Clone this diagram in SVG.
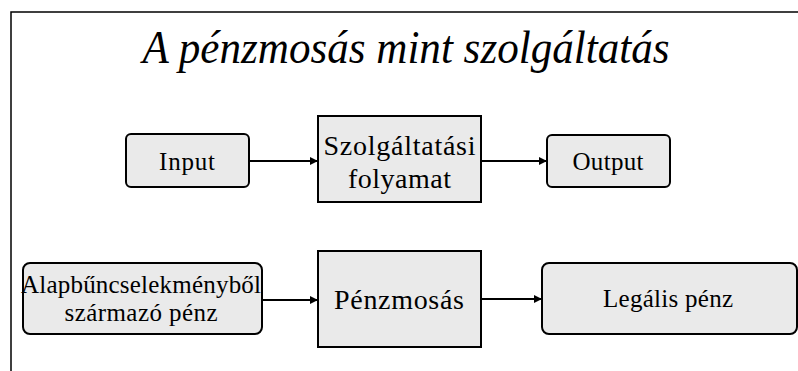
<svg xmlns="http://www.w3.org/2000/svg" width="798" height="371" viewBox="0 0 798 371">
<style>
.box{fill:#eaeaea;stroke:#000;stroke-width:2}
.t{fill:#000;text-anchor:middle}
.c{stroke:#000;stroke-width:2;fill:none;marker-end:url(#ah)}
</style>
<defs>
<marker id="ah" viewBox="0 0 10 10" refX="10" refY="5" markerWidth="8" markerHeight="8" markerUnits="userSpaceOnUse" orient="auto">
<path d="M0,0 L10,5 L0,10 z" fill="#000"/>
</marker>
</defs>
<rect width="798" height="371" fill="#fff"/>
<path d="M11,371 V12 H798" fill="none" stroke="#000" stroke-width="1.5"/>
<g font-family="'Liberation Serif', 'Times New Roman', serif">
<text class="t" x="406" y="63" font-size="46" font-style="italic" textLength="527" lengthAdjust="spacingAndGlyphs">A pénzmosás mint szolgáltatás</text>
<g id="input">
<rect class="box" x="126" y="134" width="123" height="53" rx="5"/>
<text class="t" x="187" y="170" font-size="25" textLength="56">Input</text>
</g>
<g id="szolgaltatasi">
<rect class="box" x="318" y="116" width="163" height="86"/>
<text class="t" x="399.5" y="155" font-size="28" textLength="152">Szolgáltatási</text>
<text class="t" x="399.5" y="188" font-size="28" textLength="103">folyamat</text>
</g>
<g id="output">
<rect class="box" x="547" y="135" width="123" height="52" rx="5"/>
<text class="t" x="608" y="170" font-size="25" textLength="71">Output</text>
</g>
<g id="alapbun">
<rect class="box" x="23" y="263" width="239" height="71" rx="7"/>
<text class="t" x="141" y="293" font-size="25" textLength="240">Alapbűncselekményből</text>
<text class="t" x="141" y="321" font-size="25" textLength="153">származó pénz</text>
</g>
<g id="penzmosas">
<rect class="box" x="318" y="251" width="163" height="96"/>
<text class="t" x="399" y="309" font-size="28" textLength="130">Pénzmosás</text>
</g>
<g id="legalis">
<rect class="box" x="542" y="263" width="255" height="71" rx="7"/>
<text class="t" x="668" y="307" font-size="25" textLength="130">Legális pénz</text>
</g>
</g>
<g id="connectors">
<line class="c" x1="249" y1="161" x2="318" y2="161"/>
<line class="c" x1="481" y1="161" x2="547" y2="161"/>
<line class="c" x1="262" y1="300" x2="318" y2="300"/>
<line class="c" x1="481" y1="299" x2="542" y2="299"/>
</g>
</svg>
